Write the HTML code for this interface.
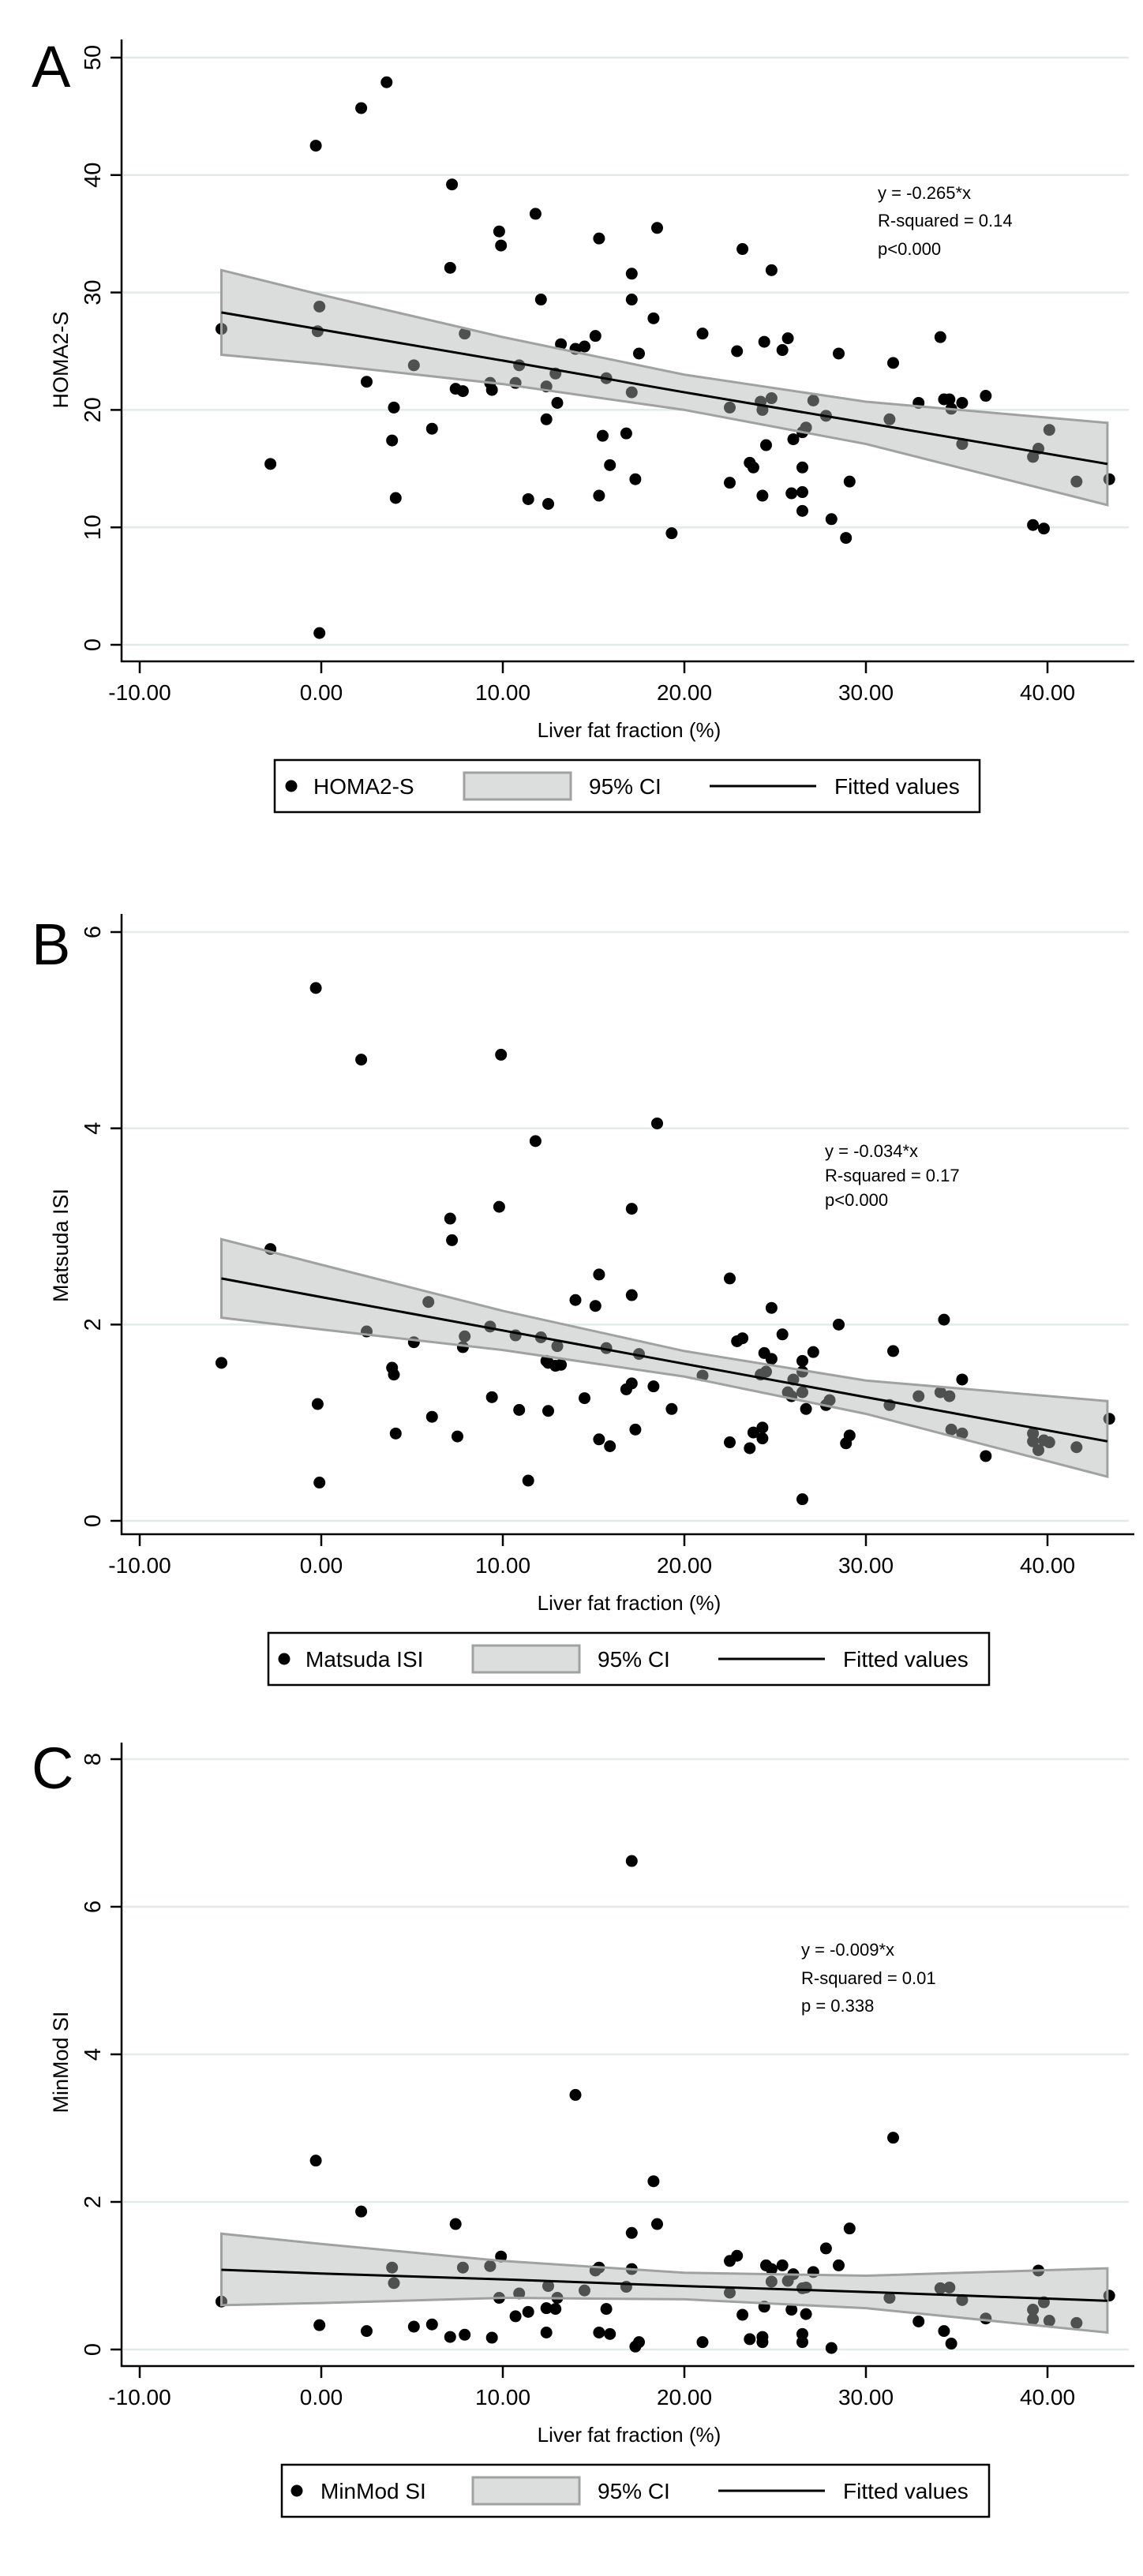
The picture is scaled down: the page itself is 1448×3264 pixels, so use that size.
<!DOCTYPE html>
<html><head><meta charset="utf-8">
<style>
html,body{margin:0;padding:0;background:#fff;}
svg{display:block;font-family:"Liberation Sans",Arial,sans-serif;}
</style></head>
<body>
<svg id="fig" width="1448" height="3264" viewBox="0 0 1448 3264" xmlns="http://www.w3.org/2000/svg"></svg>
<script>
// ---------- Data ----------
const xTickValues = [-10, 0, 10, 20, 30, 40];
const xTickLabels = ["-10.00", "0.00", "10.00", "20.00", "30.00", "40.00"];

const aX = [-5.5,-2.8,-0.3,-0.1,-0.2,-0.1,2.2,2.5,3.6,4.0,3.9,4.1,5.1,6.1,7.1,7.2,7.4,7.8,7.9,9.3,9.4,9.8,9.9,10.7,10.9,11.4,11.8,12.1,12.4,12.4,12.5,12.9,13.0,13.2,14.0,14.5,15.1,15.3,15.3,15.5,15.7,15.9,16.8,17.1,17.1,17.1,17.3,17.5,18.3,18.5,19.3,21.0,22.5,22.5,22.9,23.2,23.6,23.8,24.2,24.3,24.3,24.4,24.5,24.8,24.8,25.4,25.7,25.9,26.0,26.5,26.5,26.5,26.5,26.7,27.1,27.8,28.1,28.5,28.9,29.1,31.3,31.5,32.9,34.1,34.3,34.6,34.7,35.3,35.3,36.6,39.2,39.2,39.5,39.8,40.1,41.6,43.4];
const aY = [26.9,15.4,42.5,28.8,26.7,1.0,45.7,22.4,47.9,20.2,17.4,12.5,23.8,18.4,32.1,39.2,21.8,21.6,26.5,22.3,21.7,35.2,34.0,22.3,23.8,12.4,36.7,29.4,22.0,19.2,12.0,23.1,20.6,25.6,25.2,25.4,26.3,34.6,12.7,17.8,22.7,15.3,18.0,31.6,29.4,21.5,14.1,24.8,27.8,35.5,9.5,26.5,20.2,13.8,25.0,33.7,15.5,15.1,20.7,20.0,12.7,25.8,17.0,31.9,21.0,25.1,26.1,12.9,17.5,11.4,18.1,15.1,13.0,18.5,20.8,19.5,10.7,24.8,9.1,13.9,19.2,24.0,20.6,26.2,20.9,20.9,20.1,20.6,17.1,21.2,16.0,10.2,16.7,9.9,18.3,13.9,14.1];

const bX = [-5.5,-2.8,-0.3,-0.2,-0.1,2.2,2.5,3.9,4.0,4.1,5.1,5.9,6.1,7.1,7.2,7.5,7.8,7.9,9.3,9.4,9.8,9.9,10.7,10.9,11.4,11.8,12.1,12.4,12.5,12.5,12.9,13.0,13.2,14.0,14.5,15.1,15.3,15.3,15.7,15.9,16.8,17.1,17.1,17.1,17.3,17.5,18.3,18.5,19.3,21.0,22.5,22.5,22.9,23.2,23.6,23.8,24.2,24.3,24.3,24.4,24.5,24.8,24.8,25.4,25.7,25.9,26.0,26.5,26.5,26.5,26.5,26.7,27.1,27.8,28.0,28.5,28.9,29.1,31.3,31.5,32.9,34.1,34.3,34.6,34.7,35.3,35.3,36.6,39.2,39.2,39.5,39.8,40.1,41.6,43.4];
const bY = [1.61,2.77,5.43,1.19,0.39,4.70,1.93,1.56,1.49,0.89,1.82,2.23,1.06,3.08,2.86,0.86,1.77,1.88,1.98,1.26,3.20,4.75,1.89,1.13,0.41,3.87,1.87,1.63,1.61,1.12,1.58,1.78,1.59,2.25,1.25,2.19,2.51,0.83,1.76,0.76,1.34,3.18,2.30,1.40,0.93,1.70,1.37,4.05,1.14,1.48,2.47,0.80,1.83,1.86,0.74,0.90,1.49,0.95,0.84,1.71,1.52,2.17,1.65,1.90,1.31,1.27,1.44,1.63,1.52,1.31,0.22,1.14,1.72,1.18,1.23,2.00,0.79,0.87,1.18,1.73,1.27,1.31,2.05,1.27,0.93,1.44,0.89,0.66,0.89,0.81,0.72,0.82,0.80,0.75,1.04];

const cX = [-5.5,-0.3,-0.1,2.2,2.5,3.9,4.0,5.1,6.1,7.1,7.4,7.8,7.9,9.3,9.4,9.8,9.9,10.7,10.9,11.4,12.4,12.4,12.5,12.9,13.0,14.0,14.5,15.1,15.3,15.3,15.7,15.9,16.8,17.1,17.1,17.1,17.3,17.5,18.3,18.5,21.0,22.5,22.5,22.9,23.2,23.6,24.3,24.3,24.4,24.5,24.8,24.8,25.4,25.7,25.9,26.0,26.5,26.5,26.5,26.7,26.7,27.1,27.8,28.1,28.5,29.1,31.3,31.5,32.9,34.1,34.3,34.6,34.7,35.3,36.6,39.2,39.2,39.5,39.8,40.1,41.6,43.4];
const cY = [0.65,2.56,0.33,1.87,0.25,1.11,0.90,0.31,0.34,0.17,1.70,1.11,0.20,1.13,0.16,0.70,1.26,0.45,0.76,0.51,0.56,0.23,0.86,0.55,0.70,3.45,0.80,1.07,1.11,0.23,0.55,0.21,0.85,6.62,1.58,1.09,0.04,0.10,2.28,1.70,0.10,0.77,1.20,1.27,0.47,0.14,0.17,0.10,0.58,1.14,1.09,0.92,1.14,0.93,0.54,1.02,0.83,0.21,0.10,0.84,0.48,1.05,1.37,0.02,1.14,1.64,0.70,2.87,0.38,0.83,0.25,0.84,0.08,0.67,0.42,0.54,0.41,1.07,0.64,0.39,0.36,0.73];

// CI band sample points (x) with fitted, lower, upper values
const ciX = [-5.5, 0, 10, 20, 30, 43.3];
const aFit = [28.3, 26.84, 24.2, 21.5, 18.9, 15.4];
const aLo  = [24.7, 23.9, 22.2, 20.0, 17.1, 11.9];
const aHi  = [31.9, 29.8, 26.2, 23.0, 20.7, 18.9];
const bFit = [2.47, 2.28, 1.94, 1.60, 1.26, 0.81];
const bLo  = [2.07, 1.95, 1.74, 1.47, 1.09, 0.45];
const bHi  = [2.87, 2.61, 2.14, 1.73, 1.43, 1.22];
const cFit = [1.08, 1.03, 0.95, 0.86, 0.78, 0.66];
const cLo  = [0.60, 0.63, 0.70, 0.68, 0.56, 0.23];
const cHi  = [1.57, 1.43, 1.20, 1.04, 1.00, 1.10];

const aTicks = [0, 10, 20, 30, 40, 50];
const bTicks = [0, 2, 4, 6];
const cTicks = [0, 2, 4, 6, 8];

// ---------- Drawing ----------
const NS = "http://www.w3.org/2000/svg";
const svg = document.getElementById("fig");
function mk(tag, attrs, parent){
  const e = document.createElementNS(NS, tag);
  for (const k in attrs) e.setAttribute(k, attrs[k]);
  (parent||svg).appendChild(e);
  return e;
}

function panel(cfg){
  const g = mk("g", {});
  
  
  const off = cfg.off;
  const xs = v => 407 + v * 23.0;
  const ys = v => off + cfg.y0 - (v / cfg.yMax) * (cfg.y0 - cfg.yTopPx);
  const axisBottom = off + 838;

  // grid
  cfg.ticks.forEach(t => {
    const l = mk("line", {x1:156, x2:1430, y1:ys(t), y2:ys(t), stroke:"#e2eaea", "stroke-width":2.5}, g);
    
    
  });

  // band path
  let top = ciX.map((x,i)=>`${xs(x)},${ys(cfg.hi[i])}`);
  let bot = ciX.map((x,i)=>`${xs(x)},${ys(cfg.lo[i])}`).reverse();
  const bandD = "M" + top.join(" L") + " L" + bot.join(" L") + " Z";
  const band = mk("path", {d:bandD, fill:"#dcdddd", stroke:"none"}, g);
  
  

  // points
  cfg.xv.forEach((x,i) => {
    const c = mk("circle", {cx:xs(x), cy:ys(cfg.yv[i]), r:7.5, fill:"#000"}, g);
    
    
  });
  // band overlay (tints points inside)
  const ov = mk("path", {d:bandD, fill:"rgba(220,221,221,0.36)", stroke:"#a0a2a2", "stroke-width":3}, g);
  
  

  // fit line
  const fl = mk("polyline", {points: ciX.map((x,i)=>`${xs(x)},${ys(cfg.fit[i])}`).join(" "), fill:"none", stroke:"#000", "stroke-width":3}, g);
  
  

  // axes
  const ya = mk("line", {x1:154, x2:154, y1:off+cfg.axisTop, y2:axisBottom+1, stroke:"#000", "stroke-width":2.5}, g);
  
  
  const xa = mk("line", {x1:153, x2:1437, y1:axisBottom, y2:axisBottom, stroke:"#000", "stroke-width":2.5}, g);
  
  

  cfg.ticks.forEach(t => {
    mk("line", {x1:140, x2:154, y1:ys(t), y2:ys(t), stroke:"#000", "stroke-width":2.5}, g);
    const tl = mk("text", {x:0, y:0, "font-size":29, "text-anchor":"middle",
      transform:`translate(127,${ys(t)}) rotate(-90)`}, g);
    tl.textContent = String(t);
    
    
  });
  xTickValues.forEach((v,i) => {
    mk("line", {x1:xs(v), x2:xs(v), y1:axisBottom, y2:axisBottom+15, stroke:"#000", "stroke-width":2.5}, g);
    const tl = mk("text", {x:xs(v), y:axisBottom+49, "font-size":28, "text-anchor":"middle"}, g);
    tl.textContent = xTickLabels[i];
    
    
  });

  const xt = mk("text", {x:797, y:off+934, "font-size":26, "text-anchor":"middle"}, g);
  xt.textContent = "Liver fat fraction (%)";
  
  

  const yt = mk("text", {x:0, y:0, "font-size":27, "text-anchor":"middle",
    transform:`translate(86,${off+cfg.yTitleY}) rotate(-90)`}, g);
  yt.textContent = cfg.name;
  
  

  const lt = mk("text", {x:40, y:off+cfg.letterY, "font-size":74}, g);
  lt.textContent = cfg.letter;
  
  

  // annotation
  cfg.ann.forEach((s,i) => {
    const t = mk("text", {x:cfg.annX, y:off+cfg.annY[i], "font-size":22}, g);
    t.textContent = s;
    
    
  });

  // legend
  const L = cfg.leg;
  const lg = mk("g", {}, g);
  
  
  const ly = off + 963, lh = 66, cy = ly + lh/2;
  mk("rect", {x:L.x1, y:ly, width:L.x2-L.x1, height:lh, fill:"#fff", stroke:"#000", "stroke-width":2.5}, lg);
  const ld = mk("circle", {cx:L.dot, cy:cy, r:7.5, fill:"#000"}, lg);
  
  
  const l1 = mk("text", {x:L.t1, y:cy+10, "font-size":28}, lg);
  l1.textContent = cfg.name;
  
  
  mk("rect", {x:L.box, y:cy-17, width:135, height:34, fill:"#dcdddd", stroke:"#a0a2a2", "stroke-width":3}, lg);
  const l2 = mk("text", {x:L.box+158, y:cy+10, "font-size":28}, lg);
  l2.textContent = "95% CI";
  
  
  mk("line", {x1:L.line, x2:L.line+135, y1:cy, y2:cy, stroke:"#000", "stroke-width":3}, lg);
  const l3 = mk("text", {x:L.line+158, y:cy+10, "font-size":28}, lg);
  l3.textContent = "Fitted values";
  
  
}

panel({letter:"A", name:"HOMA2-S", off:0, y0:817, yTopPx:73, yMax:50, axisTop:50,
  ticks:aTicks, xv:aX, yv:aY, fit:aFit, lo:aLo, hi:aHi, yTitleY:456, letterY:110,
  ann:["y = -0.265*x","R-squared = 0.14","p<0.000"], annX:1112, annY:[252,287,323],
  leg:{x1:348, x2:1241, dot:369, t1:397, box:588, line:899}});
panel({letter:"B", name:"Matsuda ISI", off:1106, y0:821, yTopPx:75, yMax:6, axisTop:52,
  ticks:bTicks, xv:bX, yv:bY, fit:bFit, lo:bLo, hi:bHi, yTitleY:472, letterY:116,
  ann:["y = -0.034*x","R-squared = 0.17","p<0.000"], annX:1045, annY:[360,391,422],
  leg:{x1:340, x2:1253, dot:360, t1:387, box:599, line:910}});
panel({letter:"C", name:"MinMod SI", off:2160, y0:817, yTopPx:69, yMax:8, axisTop:48,
  ticks:cTicks, xv:cX, yv:cY, fit:cFit, lo:cLo, hi:cHi, yTitleY:453, letterY:106,
  ann:["y = -0.009*x","R-squared = 0.01","p = 0.338"], annX:1015, annY:[318,354,389],
  leg:{x1:357, x2:1253, dot:376, t1:406, box:599, line:910}});
</script>
</body></html>
